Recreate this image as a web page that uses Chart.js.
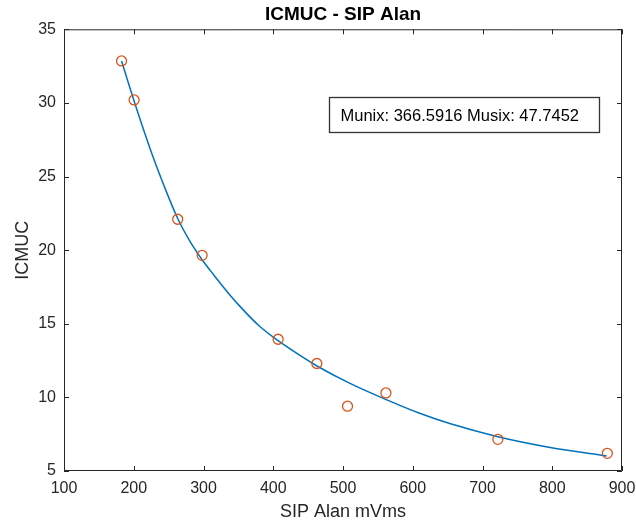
<!DOCTYPE html>
<html>
<head>
<meta charset="utf-8">
<script src="https://cdn.jsdelivr.net/npm/chart.js@4.4.1/dist/chart.umd.min.js"></script>
<style>
  html, body { margin: 0; padding: 0; background: #fff; }
</style>
</head>
<body>
<canvas id="sipChart" width="636" height="529"></canvas>
<script>
// measured points (SIP area vs ICMUC)
const sipArea = [182.5, 200.5, 263, 298, 407, 462.5, 506.5, 561.5, 722, 879]
const icmuc   = [32.85, 30.2, 22.1, 19.65, 13.95, 12.3, 9.4, 10.3, 7.15, 6.2]

// fitted curve
const fitX = [182.5, 200, 226, 244, 263, 280, 298, 315, 331, 350, 380, 407, 435, 462, 510, 562, 610, 653, 722, 797, 878]
const fitY = [32.85, 30.2, 26.55, 24.3, 22.15, 20.65, 19.35, 18.3, 17.35, 16.3, 14.85, 13.85, 12.95, 12.15, 10.95, 9.85, 8.92, 8.22, 7.33, 6.6, 6.02]

const xTicks = [100, 200, 300, 400, 500, 600, 700, 800, 900]
const yTicks = [5, 10, 15, 20, 25, 30, 35]

const boxText = 'Munix: 366.5916 Musix: 47.7452'

const FONT = "'Liberation Sans', Arial, Helvetica, sans-serif"
const AXIS = '#262626'

// matlab style box with inward ticks + the text annotation
const matlabBox = {
  id: 'matlabBox',
  afterDraw(chart) {
    const {ctx, chartArea: a, scales} = chart
    const len = 5
    ctx.save()
    ctx.strokeStyle = AXIS
    ctx.lineWidth = 1
    ctx.beginPath()
    ctx.rect(a.left + 0.5, a.top + 0.5, a.right - a.left - 1, a.bottom - a.top - 1)
    xTicks.forEach(v => {
      const px = Math.round(scales.x.getPixelForValue(v)) + 0.5
      ctx.moveTo(px, a.bottom); ctx.lineTo(px, a.bottom - len)
      ctx.moveTo(px, a.top); ctx.lineTo(px, a.top + len)
    })
    yTicks.forEach(v => {
      const py = Math.round(scales.y.getPixelForValue(v)) + 0.5
      ctx.moveTo(a.left, py); ctx.lineTo(a.left + len, py)
      ctx.moveTo(a.right, py); ctx.lineTo(a.right - len, py)
    })
    ctx.stroke()

    // annotation box
    const bx = 329.5, by = 97.5, bw = 270, bh = 35
    ctx.fillStyle = '#fff'
    ctx.fillRect(bx, by, bw, bh)
    ctx.lineWidth = 1.3
    ctx.strokeStyle = '#333'
    ctx.strokeRect(bx, by, bw, bh)
    ctx.font = '16.5px ' + FONT
    ctx.textBaseline = 'middle'
    ctx.fillStyle = '#000'
    ctx.fillText(boxText, bx + 11, by + bh / 2 + 1)
    ctx.restore()
  }
}

let sipChart = new Chart(document.getElementById('sipChart').getContext('2d'), {
  type: 'scatter',
  data: {
    datasets: [{
      label: 'fit',
      data: fitX.map((x, i) => ({x: x, y: fitY[i]})),
      showLine: true,
      borderColor: '#0072BD',
      borderWidth: 1.5,
      pointRadius: 0,
      cubicInterpolationMode: 'monotone',
      fill: false,
      order: 2
    }, {
      label: 'ICMUC',
      data: sipArea.map((x, i) => ({x: x, y: icmuc[i]})),
      showLine: false,
      pointStyle: 'circle',
      pointRadius: 5,
      pointBorderWidth: 1.3,
      borderColor: '#D95319',
      backgroundColor: 'rgba(0,0,0,0)',
      order: 1
    }]
  },
  options: {
    responsive: false,
    animation: false,
    devicePixelRatio: 1,
    layout: {padding: {left: 0, right: 14, top: 0, bottom: 0}},
    plugins: {
      legend: {display: false},
      tooltip: {enabled: false},
      title: {
        display: true,
        text: 'ICMUC - SIP Alan',
        fullSize: false,
        color: '#000',
        font: {family: FONT, size: 19, weight: 'bold'},
        padding: {top: 3, bottom: 3.5}
      }
    },
    scales: {
      x: {
        type: 'linear',
        min: 100, max: 900,
        afterBuildTicks: s => { s.ticks = xTicks.map(v => ({value: v})) },
        afterFit: s => { s.height = 58; s.paddingLeft = 0; s.paddingRight = 0 },
        grid: {display: false, drawTicks: false},
        border: {display: false},
        ticks: {color: AXIS, padding: 8, maxRotation: 0, font: {family: FONT, size: 16}},
        title: {display: true, text: 'SIP Alan mVms', color: AXIS, font: {family: FONT, size: 18}, padding: {top: 6, bottom: 6}}
      },
      y: {
        type: 'linear',
        min: 5, max: 35,
        afterBuildTicks: s => { s.ticks = yTicks.map(v => ({value: v})) },
        afterFit: s => { s.width = 64; s.paddingTop = 0; s.paddingBottom = 0 },
        grid: {display: false, drawTicks: false},
        border: {display: false},
        ticks: {color: AXIS, padding: 8, font: {family: FONT, size: 16}},
        title: {display: true, text: 'ICMUC', color: AXIS, font: {family: FONT, size: 18}, padding: {top: 12, bottom: 12}}
      }
    }
  },
  plugins: [matlabBox]
})
</script>
</body>
</html>
